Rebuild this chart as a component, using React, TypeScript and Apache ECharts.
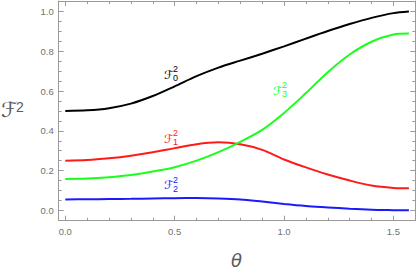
import React, { useEffect, useRef } from "react";
import * as echarts from "echarts";

const thetas = [0, 0.1, 0.2, 0.3, 0.4, 0.5, 0.6, 0.7, 0.8, 0.9, 1.0, 1.1, 1.2, 1.3, 1.4, 1.5, 1.5708];
const f0 = [0.5, 0.503, 0.514, 0.537, 0.575, 0.624, 0.675, 0.718, 0.753, 0.788, 0.825, 0.864, 0.902, 0.937, 0.968, 0.992, 1.0];
const f1 = [0.25, 0.253, 0.262, 0.275, 0.292, 0.313, 0.333, 0.342, 0.332, 0.304, 0.256, 0.216, 0.18, 0.15, 0.125, 0.113, 0.111];
const f2 = [0.055, 0.056, 0.057, 0.058, 0.06, 0.061, 0.062, 0.06, 0.055, 0.044, 0.032, 0.022, 0.015, 0.008, 0.003, 0.001, 0.0];
const f3 = [0.158, 0.16, 0.167, 0.178, 0.195, 0.217, 0.25, 0.293, 0.345, 0.405, 0.49, 0.59, 0.695, 0.784, 0.848, 0.884, 0.889];

const xMajor = [0, 0.5, 1.0, 1.5];
const xMinor = [0.1, 0.2, 0.3, 0.4, 0.6, 0.7, 0.8, 0.9, 1.1, 1.2, 1.3, 1.4];
const yMajor = [0, 0.2, 0.4, 0.6, 0.8, 1.0];
const yMinor = [0.05, 0.1, 0.15, 0.25, 0.3, 0.35, 0.45, 0.5, 0.55, 0.65, 0.7, 0.75, 0.85, 0.9, 0.95];

const seriesNames = ["F0", "F1", "F2", "F3"];
const seriesColors = ["#000000", "#ff1a1a", "#1a1aff", "#1aff1a"];
const labelSubs = ["0", "1", "2", "3"];
const labelTheta = [0.488, 0.488, 0.488, 0.986];
const labelValue = [0.681, 0.359, 0.127, 0.601];

const XMIN = -0.0302;
const XMAX = 1.6;
const YMIN = -0.052;
const YMAX = 1.053;
const FRAME = "#9a9a9a";
const TICKTXT = "#707070";

export default function App() {
  const ref = useRef<HTMLDivElement>(null);
  useEffect(() => {
    if (!ref.current) return;
    const chart = echarts.init(ref.current, null, { renderer: "svg" });
    const font = "'Liberation Sans', Arial, sans-serif";
    const scriptFont = "'DejaVu Sans', sans-serif";
    const mkAxis = (isX: boolean, pos: string, vals: number[], len: number, line: boolean, labels: boolean) => ({
      type: "value",
      position: pos,
      min: isX ? XMIN : YMIN,
      max: isX ? XMAX : YMAX,
      axisLine: { show: line, onZero: false, lineStyle: { color: FRAME, width: 1 } },
      axisTick: { show: true, inside: true, length: len, customValues: vals, lineStyle: { color: FRAME, width: 1 } },
      axisLabel: {
        show: labels,
        customValues: vals,
        margin: isX ? 6 : 5,
        color: TICKTXT,
        fontSize: 9.5,
        fontFamily: font,
        formatter: (v: number) => v.toFixed(1),
      },
      splitLine: { show: false },
    });
    const datas = [f0, f1, f2, f3];
    chart.setOption({
      animation: false,
      grid: { left: 58.7, right: 0.7, top: 1, bottom: 52.3, containLabel: false },
      xAxis: [
        mkAxis(true, "bottom", xMajor, 5, true, true),
        mkAxis(true, "bottom", xMinor, 3, false, false),
        mkAxis(true, "top", xMajor, 5, true, false),
        mkAxis(true, "top", xMinor, 3, false, false),
      ],
      yAxis: [
        mkAxis(false, "left", yMajor, 5, true, true),
        mkAxis(false, "left", yMinor, 3, false, false),
        mkAxis(false, "right", yMajor, 5, true, false),
        mkAxis(false, "right", yMinor, 3, false, false),
      ],
      series: seriesNames.map((n, i) => ({
        name: n,
        type: "line",
        xAxisIndex: 0,
        yAxisIndex: 0,
        smooth: 0.3,
        showSymbol: false,
        symbol: "none",
        lineStyle: { color: seriesColors[i], width: 2 },
        data: thetas.map((t, k) => [t, datas[i][k]]),
      })),
    });

    const elements: any[] = [
      { type: "text", x: 1, y: 99, style: { text: "ℱ", fontSize: 21, fill: "#5a5a5a", fontFamily: scriptFont } },
      { type: "text", x: 16, y: 100, style: { text: "2", fontSize: 14, fill: "#5a5a5a", fontFamily: font } },
      { type: "text", x: 231, y: 251, style: { text: "θ", fontSize: 18, fill: "#5a5a5a", fontFamily: "'DejaVu Sans', sans-serif", fontStyle: "italic" } },
    ];
    labelSubs.forEach((s, i) => {
      const p = chart.convertToPixel({ gridIndex: 0 }, [labelTheta[i], labelValue[i]]) as number[];
      const c = seriesColors[i];
      elements.push({
        type: "group",
        x: p[0],
        y: p[1],
        children: [
          { type: "text", x: -8, y: -6, style: { text: "ℱ", fontSize: 12, fill: c, fontFamily: scriptFont } },
          { type: "text", x: 1, y: -10, style: { text: "2", fontSize: 9, fill: c, fontFamily: font } },
          { type: "text", x: 1, y: -1, style: { text: s, fontSize: 9, fill: c, fontFamily: font } },
        ],
      });
    });
    chart.setOption({ graphic: { elements } });
    return () => chart.dispose();
  }, []);
  return (
    <div
      ref={ref}
      style={{ position: "absolute", left: 0, top: 0, width: 416, height: 273 }}
    />
  );
}
